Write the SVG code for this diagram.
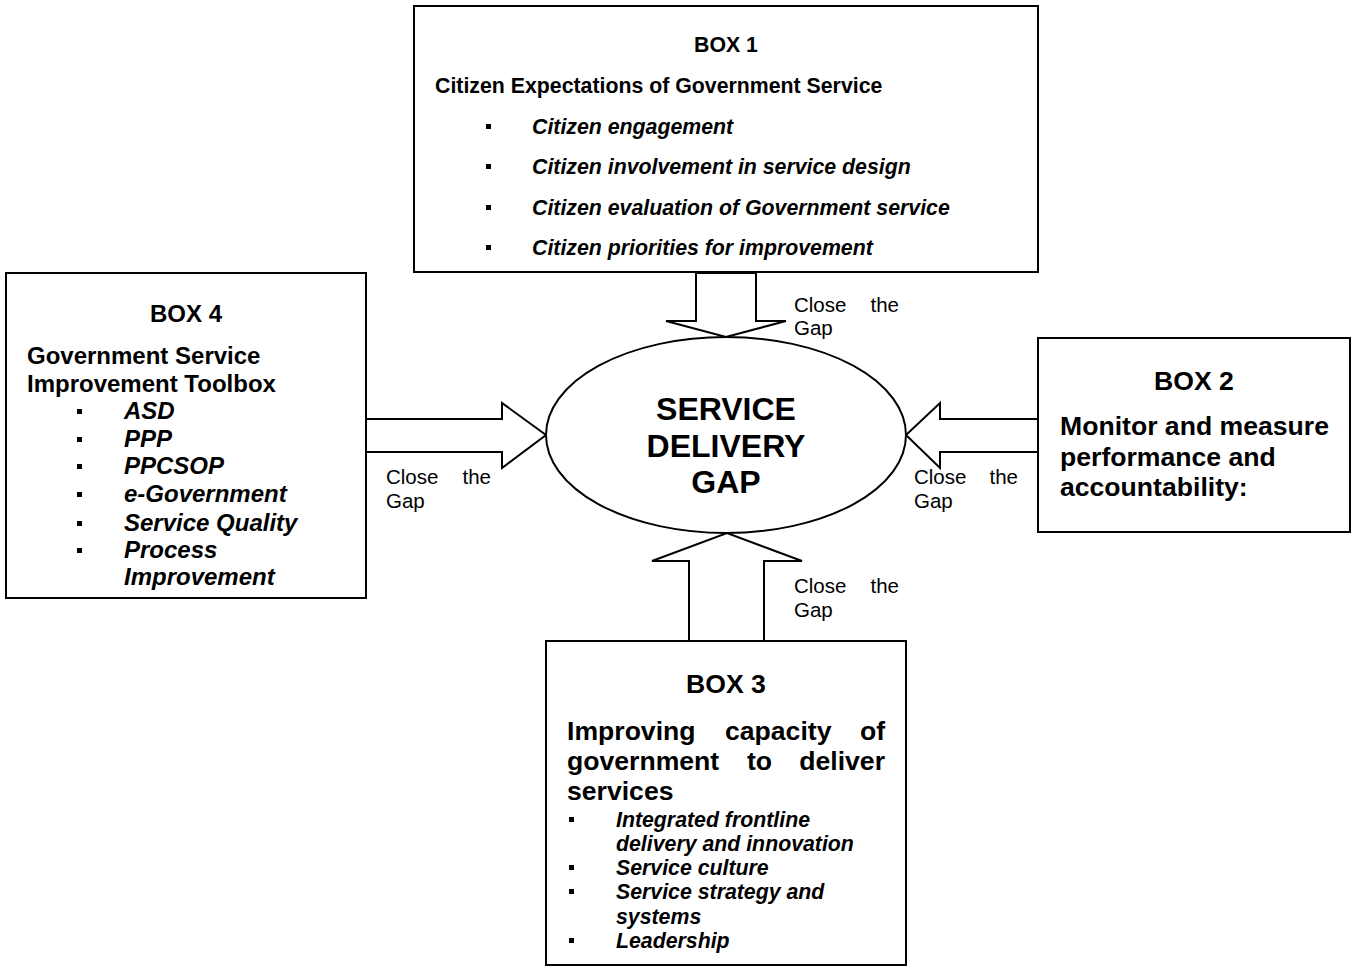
<svg xmlns="http://www.w3.org/2000/svg" width="1351" height="966" viewBox="0 0 1351 966">
<style>
.box{fill:#fff;stroke:#000;stroke-width:2}
.arr{fill:#fff;stroke:#000;stroke-width:2;stroke-linejoin:miter}
text{font-family:"Liberation Sans",Arial,sans-serif;fill:#000}
.b{font-weight:bold}
.bi{font-weight:bold;font-style:italic}
.lab{font-size:20.5px}
.t1{font-size:21.3px}
.t4{font-size:24px}
.t2{font-size:26.6px}
.t3{font-size:26.6px}
.i3{font-size:21.3px}
.c{text-anchor:middle}
.e{text-anchor:end}
</style>
<defs>
<rect id="sq" width="5" height="5" fill="#000"/>
</defs>
<rect width="1351" height="966" fill="#fff"/>

<g id="connectors">
<polygon class="arr" points="696,273 756,273 756,321 786,321 726,337 666,321 696,321"/>
<polygon class="arr" points="366,419 502,419 502,403 546,435 502,468 502,452 366,452"/>
<polygon class="arr" points="1038,419 940,419 940,403 906,435 940,468 940,452 1038,452"/>
<polygon class="arr" points="689,641 689,561 652,561 727,533 802,561 764,561 764,641"/>
<g class="lab">
<text x="794" y="312">Close</text><text x="899" y="312" class="e">the</text><text x="794" y="335">Gap</text>
<text x="386" y="484">Close</text><text x="491" y="484" class="e">the</text><text x="386" y="508">Gap</text>
<text x="914" y="484">Close</text><text x="1018" y="484" class="e">the</text><text x="914" y="508">Gap</text>
<text x="794" y="593">Close</text><text x="899" y="593" class="e">the</text><text x="794" y="617">Gap</text>
</g>
</g>

<g id="center">
<ellipse cx="726" cy="435" rx="180" ry="98" class="box"/>
<text x="726" y="420" class="b c" font-size="32">SERVICE</text>
<text x="726" y="457" class="b c" font-size="32">DELIVERY</text>
<text x="726" y="493" class="b c" font-size="32">GAP</text>
</g>

<g id="box1">
<rect x="414" y="6" width="624" height="266" class="box"/>
<text x="726" y="52" class="b c t1">BOX 1</text>
<text x="435" y="93" class="b t1">Citizen Expectations of Government Service</text>
<use href="#sq" x="486" y="124"/>
<use href="#sq" x="486" y="164"/>
<use href="#sq" x="486" y="205"/>
<use href="#sq" x="486" y="245"/>
<text x="532" y="134" class="bi t1">Citizen engagement</text>
<text x="532" y="174" class="bi t1">Citizen involvement in service design</text>
<text x="532" y="215" class="bi t1">Citizen evaluation of Government service</text>
<text x="532" y="255" class="bi t1">Citizen priorities for improvement</text>
</g>

<g id="box4">
<rect x="6" y="273" width="360" height="325" class="box"/>
<text x="186" y="322" class="b c t4">BOX 4</text>
<text x="27" y="364" class="b t4">Government Service</text>
<text x="27" y="392" class="b t4">Improvement Toolbox</text>
<use href="#sq" x="77" y="409"/>
<use href="#sq" x="77" y="437"/>
<use href="#sq" x="77" y="464"/>
<use href="#sq" x="77" y="492"/>
<use href="#sq" x="77" y="521"/>
<use href="#sq" x="77" y="548"/>
<text x="124" y="419" class="bi t4">ASD</text>
<text x="124" y="447" class="bi t4">PPP</text>
<text x="124" y="474" class="bi t4">PPCSOP</text>
<text x="124" y="502" class="bi t4">e-Government</text>
<text x="124" y="531" class="bi t4">Service Quality</text>
<text x="124" y="558" class="bi t4">Process</text>
<text x="124" y="585" class="bi t4">Improvement</text>
</g>

<g id="box2">
<rect x="1038" y="338" width="312" height="194" class="box"/>
<text x="1194" y="390" class="b c t2">BOX 2</text>
<text x="1060" y="435" class="b t2">Monitor and measure</text>
<text x="1060" y="466" class="b t2">performance and</text>
<text x="1060" y="496" class="b t2">accountability:</text>
</g>

<g id="box3">
<rect x="546" y="641" width="360" height="324" class="box"/>
<text x="726" y="693" class="b c t3">BOX 3</text>
<text x="567" y="740" class="b t3">Improving</text>
<text x="725" y="740" class="b t3">capacity</text>
<text x="885" y="740" class="b e t3">of</text>
<text x="567" y="770" class="b t3">government</text>
<text x="747" y="770" class="b t3">to</text>
<text x="885" y="770" class="b e t3">deliver</text>
<text x="567" y="800" class="b t3">services</text>
<use href="#sq" x="569" y="817"/>
<use href="#sq" x="569" y="865"/>
<use href="#sq" x="569" y="889"/>
<use href="#sq" x="569" y="938"/>
<text x="616" y="827" class="bi i3">Integrated frontline</text>
<text x="616" y="851" class="bi i3">delivery and innovation</text>
<text x="616" y="875" class="bi i3">Service culture</text>
<text x="616" y="899" class="bi i3">Service strategy and</text>
<text x="616" y="924" class="bi i3">systems</text>
<text x="616" y="948" class="bi i3">Leadership</text>
</g>
</svg>
